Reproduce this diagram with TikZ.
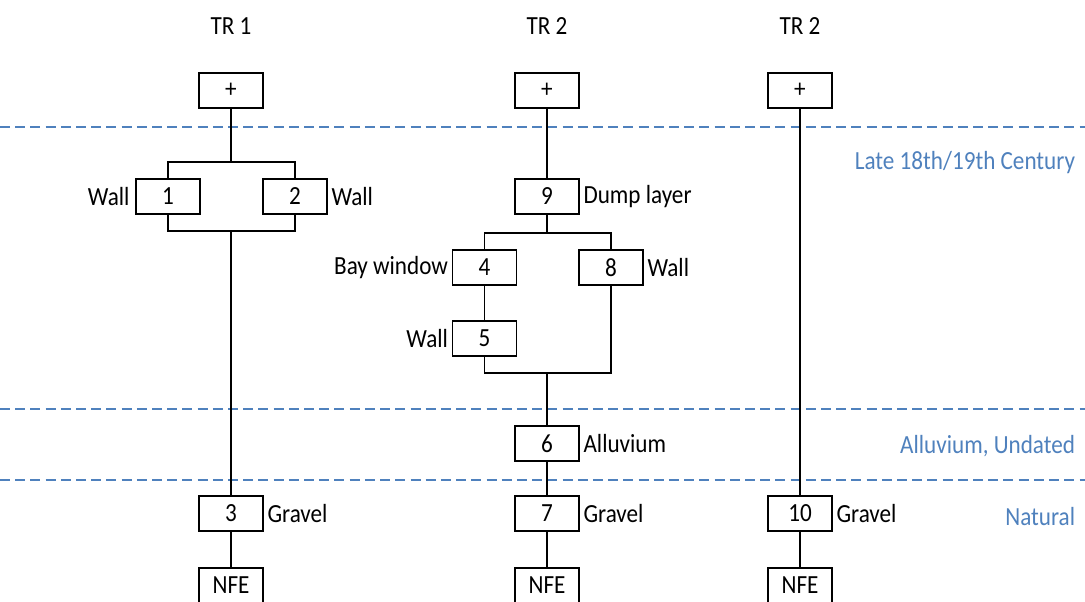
\documentclass[tikz,border=0pt]{standalone}
\usepackage{fontspec}
\setmainfont{Carlito}[FakeStretch=0.885]
\usepackage{tikz}
\usepackage{xcolor}
\usetikzlibrary{positioning}
\definecolor{phaseblue}{RGB}{79,129,189}

\begin{document}
\begin{tikzpicture}[x=0.025cm, y=-0.025cm,
        font=\fontsize{18.6}{20}\selectfont,
        unit/.style={rectangle, draw=black, line width=1.2pt, minimum width=1.6cm, minimum height=0.875cm, inner sep=0pt, fill=white},
        desc/.style={inner sep=1pt},
        link/.style={draw=black, line width=1.2pt},
        phase/.style={draw=phaseblue, line width=1.4pt, dash pattern=on 0.25cm off 0.13cm},
        phasetext/.style={text=phaseblue, anchor=east}
    ]
        \clip (0,0) rectangle (1085,601);

        % Phase boundaries
        \draw[phase] (0,127) -- (1085,127);
        \draw[phase] (0,409) -- (1085,409);
        \draw[phase] (0,480) -- (1085,480);
        \node[phasetext] (ph1) at (1080,163) {Late 18th/19th Century};
        \node[phasetext] (ph2) at (1080,446) {Alluvium, Undated};
        \node[phasetext] (ph3) at (1080,517) {Natural};

        % Trench headings
        \node (tr1) at (231,26) {TR 1};
        \node (tr2) at (547,26) {TR 2};
        \node (tr3) at (800,26) {TR 2};

        % TR 1
        \node[unit] (p1) at (231,90.5) {+};
        \node[unit] (u1) at (168,196.5) {1};
        \node[unit] (u2) at (295,196.5) {2};
        \node[unit] (u3) at (231,513.5) {3};
        \node[unit] (n1) at (231,585.5) {NFE};
        \node[desc, left=0.1cm of u1] {Wall};
        \node[desc, right=0.05cm of u2] {Wall};
        \node[desc, right=0.05cm of u3] {Gravel};
        \coordinate (s1) at (231,162);
        \coordinate (m1) at (231,231);
        \draw[link] (p1) -- (s1);
        \draw[link] (u1) |- (s1) -| (u2);
        \draw[link] (u1) |- (m1) -| (u2);
        \draw[link] (m1) -- (u3);
        \draw[link] (u3) -- (n1);

        % TR 2
        \node[unit] (p2) at (547,90.5) {+};
        \node[unit] (u9) at (547,196.5) {9};
        \node[unit] (u4) at (484.5,267.5) {4};
        \node[unit] (u8) at (611,267.5) {8};
        \node[unit] (u5) at (484.5,338.5) {5};
        \node[unit] (u6) at (547,443.5) {6};
        \node[unit] (u7) at (547,513.5) {7};
        \node[unit] (n2) at (547,585.5) {NFE};
        \node[desc, right=0.05cm of u9] {Dump layer};
        \node[desc, left=0.05cm of u4] {Bay window};
        \node[desc, right=0.05cm of u8] {Wall};
        \node[desc, left=0.05cm of u5] {Wall};
        \node[desc, right=0.05cm of u6] {Alluvium};
        \node[desc, right=0.05cm of u7] {Gravel};
        \coordinate (s2) at (547,233);
        \coordinate (m2) at (547,373);
        \draw[link] (p2) -- (u9);
        \draw[link] (u9) -- (s2);
        \draw[link] (u4) |- (s2) -| (u8);
        \draw[link] (u4) -- (u5);
        \draw[link] (u5) |- (m2) -| (u8);
        \draw[link] (m2) -- (u6);
        \draw[link] (u6) -- (u7);
        \draw[link] (u7) -- (n2);

        % TR 2 (second)
        \node[unit] (p3) at (800,90.5) {+};
        \node[unit] (u10) at (800,513.5) {10};
        \node[unit] (n3) at (800,585.5) {NFE};
        \node[desc, right=0.05cm of u10] {Gravel};
        \draw[link] (p3) -- (u10);
        \draw[link] (u10) -- (n3);
    \end{tikzpicture}
\end{document}
